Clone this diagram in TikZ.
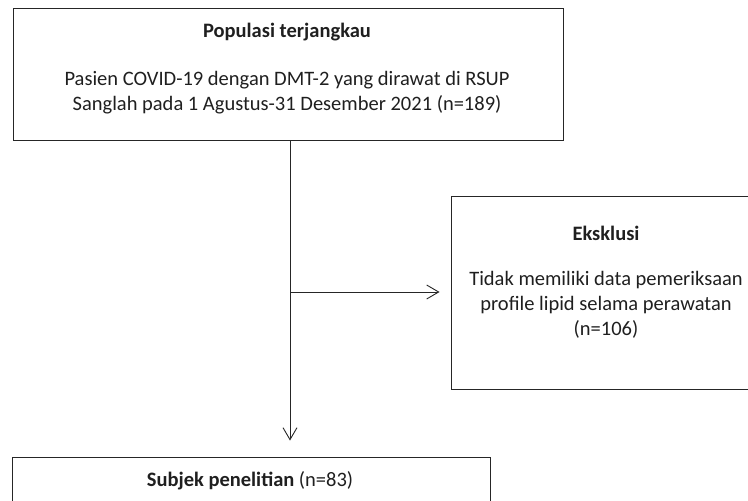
\documentclass[tikz,border=0pt]{standalone}
\usepackage{fontspec}
\setmainfont{Carlito}
\usetikzlibrary{arrows.meta}
\begin{document}
\begin{tikzpicture}[x=1pt,y=-1pt,
  box/.style={draw=black!85,line width=0.9pt,inner sep=0pt,minimum width=#1},
  txt/.style={font=\fontsize{20.5}{25}\selectfont,text=black!88,anchor=base,inner sep=0pt},
  conn/.style={draw=black!85,line width=0.9pt},
  arr/.style={conn,-{Straight Barb[length=12pt,width=14pt,line width=0.9pt]}}]
\useasboundingbox (0,0) rectangle (748,501);
\clip (0,0) rectangle (748,501);
% boxes
\node[box=550pt,minimum height=132pt] (top) at (288,74) {};
\node[box=310pt,minimum height=193pt] (excl) at (606,292.5) {};
\node[box=478pt,minimum height=100pt] (subj) at (251,507) {};
% texts
\node[txt] (t1) at (287,37.5) {\bfseries Populasi terjangkau};
\node[txt] (t2) at (287,85) {Pasien COVID-19 dengan DMT-2 yang dirawat di RSUP};
\node[txt] (t3) at (287,110) {Sanglah pada 1 Agustus-31 Desember 2021 (n=189)};
\node[txt] (e1) at (606,240) {\bfseries Eksklusi};
\node[txt] (e2) at (606,285) {Tidak memiliki data pemeriksaan};
\node[txt] (e3) at (606,310) {profile lipid selama perawatan};
\node[txt] (e4) at (606,335) {(n=106)};
\node[txt] (s1) at (250,486) {\bfseries Subjek penelitian \mdseries(n=83)};
% connectors
\coordinate (branch) at (290,292);
\draw[conn] (top.south -| branch) -- (branch);
\draw[arr,shorten >=11pt] (branch) -- (branch -| excl.west);
\draw[arr,shorten >=16pt] (branch) -- (branch |- subj.north);
\end{tikzpicture}
\end{document}
